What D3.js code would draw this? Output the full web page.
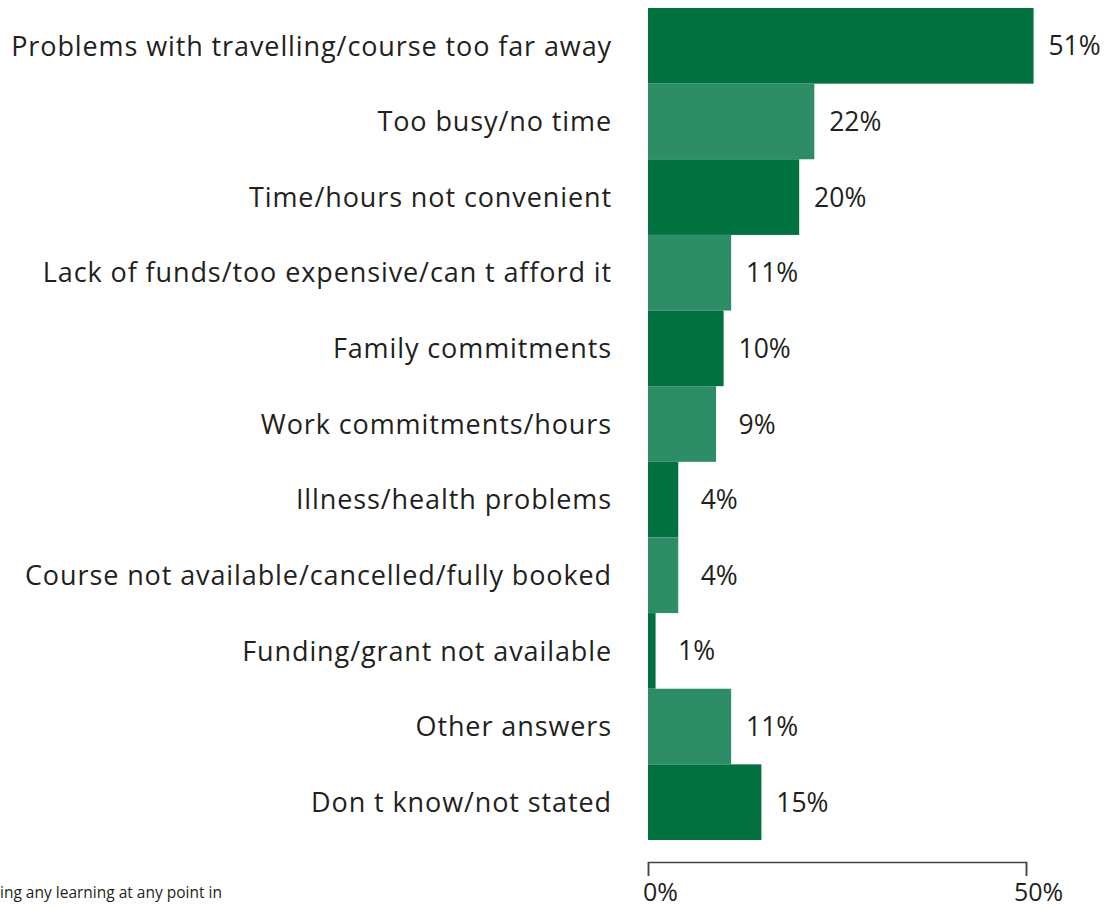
<!DOCTYPE html>
<html>
<head>
<meta charset="utf-8">
<script src="https://cdn.jsdelivr.net/npm/d3@7"></script>
<style>
  html, body { margin: 0; padding: 0; background: #fff; }
  svg { display: block; }
  text { font-family: "Open Sans", Lato, sans-serif; fill: #231f20; }
</style>
</head>
<body>
<svg id="chart" width="1118" height="908"></svg>
<script>
// Reasons given for not doing any learning (percent of respondents)
const reasons = [
  "Problems with travelling/course too far away",
  "Too busy/no time",
  "Time/hours not convenient",
  "Lack of funds/too expensive/can t afford it",
  "Family commitments",
  "Work commitments/hours",
  "Illness/health problems",
  "Course not available/cancelled/fully booked",
  "Funding/grant not available",
  "Other answers",
  "Don t know/not stated"
];
const shares = [51, 22, 20, 11, 10, 9, 4, 4, 1, 11, 15];
const axisTicks = [0, 50];
const baseNote = "ing any learning at any point in";

const svg = d3.select("#chart");
const dark = "#00713f", light = "#2d8d67";

const x = d3.scaleLinear().domain([0, 50]).range([648, 1026]);
const y = d3.scaleBand().domain(reasons).range([8, 840]).padding(0);

// bars, alternating shade row by row
svg.append("g").selectAll("rect")
  .data(reasons)
  .join("rect")
  .attr("x", x(0))
  .attr("y", d => y(d))
  .attr("width", (d, i) => x(shares[i]) - x(0))
  .attr("height", y.bandwidth())
  .attr("fill", (d, i) => i % 2 === 0 ? dark : light);

// category labels
svg.append("g").selectAll("text")
  .data(reasons)
  .join("text")
  .attr("x", 612)
  .attr("y", d => y(d) + y.bandwidth() / 2)
  .attr("dy", "0.36em")
  .attr("text-anchor", "end")
  .style("font-size", "27px")
  .style("letter-spacing", "0.9px")
  .text(d => d);

// value labels
svg.append("g").selectAll("text")
  .data(shares)
  .join("text")
  .attr("x", d => x(d) + 41)
  .attr("y", (d, i) => y(reasons[i]) + y.bandwidth() / 2)
  .attr("dy", "0.36em")
  .attr("text-anchor", "middle")
  .style("font-size", "26.5px")
  .text(d => d + "%");

// bracket-style axis
const axis = svg.append("g")
  .attr("transform", "translate(0,862)")
  .call(d3.axisBottom(x)
    .tickValues(axisTicks)
    .tickSizeInner(14)
    .tickSizeOuter(14)
    .tickPadding(7)
    .tickFormat(d => d + "%"));
axis.select(".domain").attr("stroke", "#444").attr("stroke-width", 1.5);
axis.selectAll(".tick line").attr("stroke", "#444").attr("stroke-width", 1.5);
axis.selectAll(".tick text")
  .attr("dx", 12)
  .style("font-size", "25px")
  .style("font-family", "'Open Sans', Lato, sans-serif")
  .attr("fill", "#231f20");

// base note (continues off the left edge)
svg.append("text")
  .attr("x", 0)
  .attr("y", 898)
  .style("font-size", "15.5px")
  .text(baseNote);
</script>
</body>
</html>
